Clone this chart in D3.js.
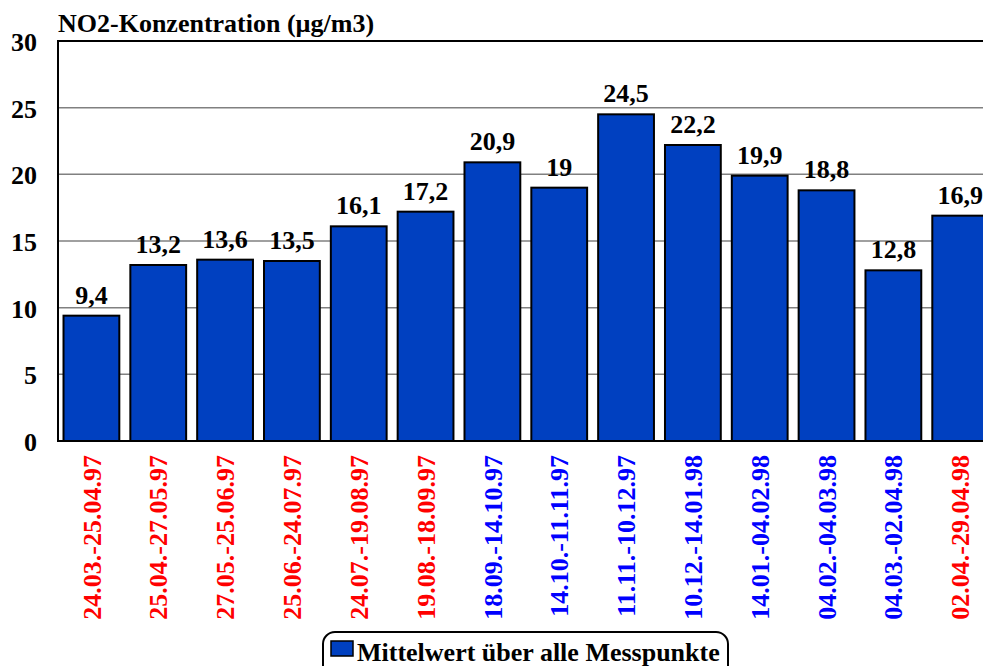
<!DOCTYPE html>
<html>
<head>
<meta charset="utf-8">
<script src="https://cdn.jsdelivr.net/npm/d3@7"></script>
<style>
  body { margin: 0; background: #fff; }
  svg { display: block; }
  text { font-family: "Liberation Serif", "Times New Roman", serif; font-weight: bold; }
</style>
</head>
<body>
<div id="chart"></div>
<script>
// periods (x categories)
const periods = ["24.03.-25.04.97", "25.04.-27.05.97", "27.05.-25.06.97", "25.06.-24.07.97",
  "24.07.-19.08.97", "19.08.-18.09.97", "18.09.-14.10.97", "14.10.-11.11.97", "11.11.-10.12.97",
  "10.12.-14.01.98", "14.01.-04.02.98", "04.02.-04.03.98", "04.03.-02.04.98", "02.04.-29.04.98"];
// mean NO2 over all measuring points
const values = [9.4, 13.2, 13.6, 13.5, 16.1, 17.2, 20.9, 19, 24.5, 22.2, 19.9, 18.8, 12.8, 16.9];
// label colour group: summer (red) / winter (blue)
const season = ["s", "s", "s", "s", "s", "s", "w", "w", "w", "w", "w", "w", "w", "s"];
const yTicks = [0, 5, 10, 15, 20, 25, 30];

const width = 983, height = 666;
const margin = {top: 41, left: 58, bottom: 225};
const plotW = 14 * 66.83;
const plotH = height - margin.top - margin.bottom;

const svg = d3.select("#chart").append("svg")
    .attr("width", width)
    .attr("height", height);

const x = d3.scaleBand()
    .domain(periods)
    .range([margin.left, margin.left + plotW])
    .paddingInner(0.165)
    .paddingOuter(0.0825);

const y = d3.scaleLinear()
    .domain([0, 30])
    .range([margin.top + plotH, margin.top]);

// grid lines
svg.append("g")
  .selectAll("line")
  .data(yTicks.filter(d => d > 0 && d < 30))
  .join("line")
    .attr("x1", margin.left).attr("x2", margin.left + plotW)
    .attr("y1", d => y(d)).attr("y2", d => y(d))
    .attr("stroke", "#808080")
    .attr("stroke-width", 1.5);

// frame
svg.append("rect")
    .attr("x", margin.left).attr("y", margin.top)
    .attr("width", plotW).attr("height", plotH)
    .attr("fill", "none")
    .attr("stroke", "#000")
    .attr("stroke-width", 2);

// y axis labels
svg.append("g")
  .selectAll("text")
  .data(yTicks)
  .join("text")
    .attr("x", 37)
    .attr("y", d => y(d))
    .attr("dy", "0.38em")
    .attr("text-anchor", "end")
    .attr("font-size", 26)
    .text(d => d);

// bars
svg.append("g")
  .selectAll("rect")
  .data(values)
  .join("rect")
    .attr("x", (d, i) => x(periods[i]))
    .attr("y", d => y(d))
    .attr("width", x.bandwidth())
    .attr("height", d => y(0) - y(d))
    .attr("fill", "#0040C0")
    .attr("stroke", "#000")
    .attr("stroke-width", 2);

// value labels
svg.append("g")
  .selectAll("text")
  .data(values)
  .join("text")
    .attr("x", (d, i) => x(periods[i]) + x.bandwidth() / 2)
    .attr("y", d => y(d) - 12)
    .attr("text-anchor", "middle")
    .attr("font-size", 26)
    .text(d => String(d).replace(".", ","));

// x labels, rotated
svg.append("g")
  .selectAll("text")
  .data(periods)
  .join("text")
    .attr("transform", d => `translate(${x(d) + x.bandwidth() / 2},455) rotate(-90)`)
    .attr("dy", "0.35em")
    .attr("text-anchor", "end")
    .attr("font-size", 26)
    .attr("fill", (d, i) => season[i] === "s" ? "#FF0000" : "#0000FF")
    .text(d => d);

// y axis title
svg.append("text")
    .attr("x", 58)
    .attr("y", 32)
    .attr("font-size", 26)
    .text("NO2-Konzentration (µg/m3)");

// legend
const legend = svg.append("g");
legend.append("rect")
    .attr("x", 323).attr("y", 632)
    .attr("width", 405).attr("height", 50)
    .attr("rx", 12)
    .attr("fill", "#fff")
    .attr("stroke", "#000")
    .attr("stroke-width", 2);
legend.append("rect")
    .attr("x", 331).attr("y", 641)
    .attr("width", 22).attr("height", 15)
    .attr("fill", "#0040C0")
    .attr("stroke", "#000")
    .attr("stroke-width", 1.5);
legend.append("text")
    .attr("x", 357)
    .attr("y", 661)
    .attr("font-size", 26)
    .text("Mittelwert über alle Messpunkte");
</script>
</body>
</html>
